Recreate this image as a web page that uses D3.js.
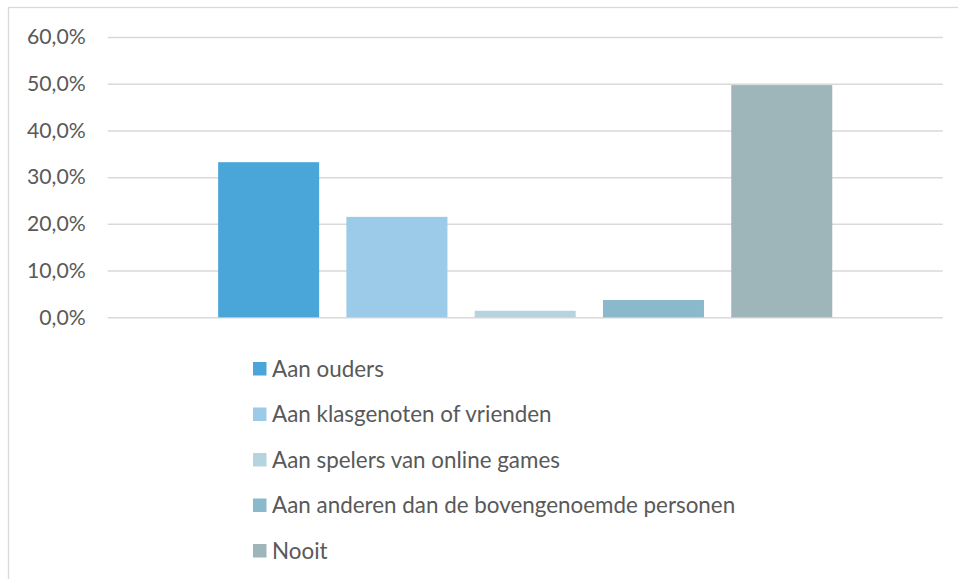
<!DOCTYPE html>
<html><head><meta charset="utf-8">
<script src="https://cdn.jsdelivr.net/npm/d3@7"></script>
<style>html,body{margin:0;padding:0;background:#fff;overflow:hidden}svg{display:block}</style>
</head><body><svg id="c" width="958" height="579"></svg>
<script>
const seriesNames = ["Aan ouders","Aan klasgenoten of vrienden","Aan spelers van online games","Aan anderen dan de bovengenoemde personen","Nooit"];
const seriesValues = [33.2, 21.5, 1.4, 3.7, 49.7];
const seriesColors = ["#4aa5d8","#9bcbe8","#b6d4df","#89b9cb","#9eb5ba"];
const yTicks = [0,10,20,30,40,50,60];

const svg = d3.select("#c");
const font = "Lato, 'Open Sans', sans-serif";
const textColor = "#595959";

svg.append("rect").attr("x",8.5).attr("y",7.5).attr("width",960).attr("height",600)
  .attr("fill","#fff").attr("stroke","#d9d9d9").attr("stroke-width",1.3);

const plotLeft = 107.7, plotRight = 942.7, plotTop = 37, plotBottom = 317.3;
const y = d3.scaleLinear().domain([0,60]).range([plotBottom, plotTop]);
const x = d3.scaleBand().domain(seriesNames).range([plotLeft,plotRight]).paddingInner(0.2125).paddingOuter(0.861);

const yAxis = d3.axisLeft(y).tickValues(yTicks).tickSize(-(plotRight-plotLeft)).tickPadding(22)
  .tickFormat(d => d3.format(".1f")(d).replace(".", ",") + "%");
const g = svg.append("g").attr("transform",`translate(${plotLeft},0)`).call(yAxis);
g.select(".domain").remove();
g.selectAll(".tick line").attr("stroke","#d9d9d9").attr("stroke-width",1.5);
g.selectAll(".tick text").attr("fill",textColor).attr("font-family",font).attr("font-size",21.2);

svg.append("g").selectAll("rect").data(seriesNames).join("rect")
  .attr("x", d => x(d)).attr("width", x.bandwidth())
  .attr("y", (d,i) => y(seriesValues[i])).attr("height", (d,i) => y(0) - y(seriesValues[i]))
  .attr("fill", (d,i) => seriesColors[i]);

const legend = svg.append("g").attr("transform","translate(253,369)");
const rows = legend.selectAll("g").data(seriesNames).join("g")
  .attr("transform",(d,i)=>`translate(0,${i*45.5})`);
rows.append("rect").attr("x",0).attr("y",-7).attr("width",13.5).attr("height",13.5)
  .attr("fill",(d,i)=>seriesColors[i]);
rows.append("text").attr("x",19).attr("y",0).attr("dy","0.35em")
  .attr("fill",textColor).attr("font-family",font).attr("font-size",22.4).text(d=>d);
</script></body></html>
